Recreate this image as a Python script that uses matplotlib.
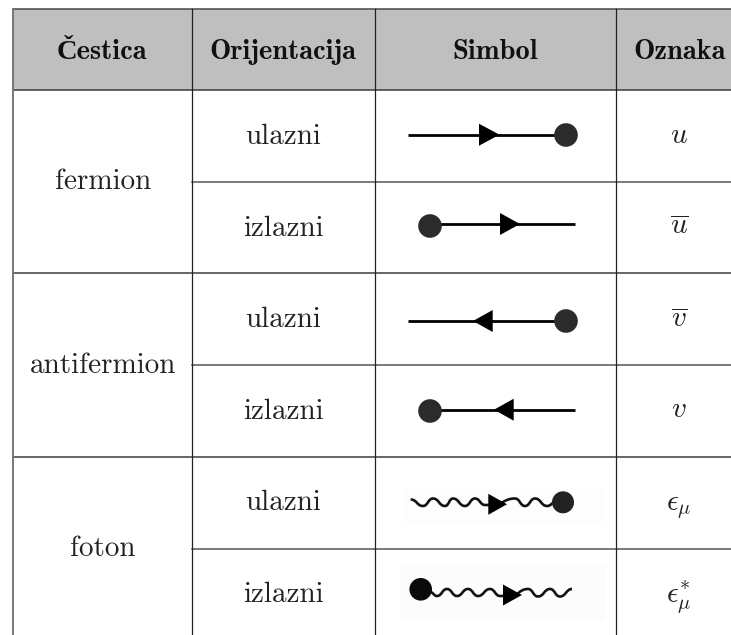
import matplotlib
matplotlib.use("Agg")
import matplotlib.pyplot as plt
from matplotlib.path import Path
from matplotlib.patches import PathPatch, Ellipse, Polygon, Rectangle

plt.rcParams['mathtext.fontset'] = 'cm'

headers = ['Čestica', 'Orijentacija', 'Simbol', 'Oznaka']
particles = ['fermion', 'antifermion', 'foton']
orientations = ['ulazni', 'izlazni'] * 3
labels = [r'$u$', r'$\overline{u}$', r'$\overline{v}$', r'$v$', r'$\epsilon_{\mu}$', r'$\epsilon_{\mu}^{*}$']

# grid in pixels of the picture
col_x = [13, 191.5, 374.5, 615.5]
row_y = [90, 181.5, 273, 365, 457, 549]
top_y = 9

# text baselines in pixels
particle_base = [189, 373, 556]
orient_base = [144, 236, 327, 419, 510, 602]
label_base = [143, 234, 327, 417, 510, 602]

# straight symbols: line y, line start, line end, dot x, dot y, arrow base, arrow tip
straight = [
    (134.7, 408, 566, 566, 135, 479, 499.5),
    (224, 430, 575, 430, 226, 500, 520),
    (321, 408, 566, 566, 321, 492.7, 473),
    (409.7, 430, 575, 430, 411, 513.7, 494),
]

# wave symbols: turning points
wave_in = [(410.7, 499.5), (423, 506), (433, 498.5), (445, 506), (453, 498.5), (465, 506),
           (475, 498.5), (485, 505), (492, 505), (515, 498.5), (525, 506), (535, 498.5),
           (547, 506), (556, 502)]
wave_out = [(430, 592), (437, 596), (447, 589), (457, 596), (468, 589), (478, 596), (490, 589),
            (500, 596), (510, 596), (528, 589), (538, 596.5), (550, 589), (560, 596.5), (572, 589)]


def wave_path(points):
    # smooth curve with flat tangents at every turning point
    verts = [points[0]]
    codes = [Path.MOVETO]
    for (x0, y0), (x1, y1) in zip(points[:-1], points[1:]):
        mid = (x0 + x1) / 2
        verts += [(mid, y0), (mid, y1), (x1, y1)]
        codes += [Path.CURVE4, Path.CURVE4, Path.CURVE4]
    return Path(verts, codes)


def arrow(ax, base, tip, y, half=11):
    ax.add_patch(Polygon([(base, y - half), (base, y + half), (tip, y)], closed=True,
                         fc='black', ec='none', zorder=4))


def dot(ax, x, y, r, color):
    ax.add_patch(Ellipse((x, y), 2 * r, 2 * r, fc=color, ec='none', zorder=5))


fig = plt.figure(figsize=(7.31, 6.35), dpi=100)
ax = fig.add_axes([0, 0, 1, 1])
ax.set_xlim(0, 731)
ax.set_ylim(635, 0)
ax.axis('off')

ax.add_patch(Rectangle((col_x[0], top_y), 731 - col_x[0], row_y[0] - top_y, fc='#bfbfbf', ec='none'))

# faint scan background around the photon symbols
ax.add_patch(Rectangle((403, 487), 202, 38, fc='#fdfdfd', ec='none'))
ax.add_patch(Rectangle((400, 565), 206, 57, fc='#fcfcfc', ec='none'))

# grid
ax.plot([col_x[0], 731], [top_y, top_y], color='#555555', lw=1.2)
for i, y in enumerate(row_y):
    x0 = col_x[0] if i % 2 == 0 else col_x[1]
    ax.plot([x0, 731], [y, y], color='#3c3c3c' if i % 2 == 0 else '#555555', lw=1.1)
ax.plot([col_x[0], col_x[0]], [top_y, 635], color='#777777', lw=1.4)
for x in col_x[1:]:
    ax.plot([x, x], [top_y, 635], color='#222222', lw=0.9)

# header
header_x = [102, 283, 495, 680]
for x, name in zip(header_x, headers):
    ax.text(x, 59, name, ha='center', va='baseline', fontsize=20.5,
            family=['cmb10', 'Liberation Serif'], weight='bold', color='#111111')

for y, name in zip(particle_base, particles):
    ax.text(103, y, name, ha='center', va='baseline', fontsize=21, family='cmr10', color='#222222')

for y, name in zip(orient_base, orientations):
    ax.text(283, y, name, ha='center', va='baseline', fontsize=21, family='cmr10', color='#222222')

for y, name in zip(label_base, labels):
    ax.text(679, y, name, ha='center', va='baseline', fontsize=21, color='#222222')

# symbols
for ly, x0, x1, dx, dy, base, tip in straight:
    ax.plot([x0, x1], [ly, ly], color='black', lw=2.0, solid_capstyle='butt', zorder=3)
    arrow(ax, base, tip, ly)
    dot(ax, dx, dy, 11.8, '#2b2b2b')

ax.add_patch(PathPatch(wave_path(wave_in), fc='none', ec='#111111', lw=1.9, zorder=3))
arrow(ax, 488.3, 507, 504.3, 10.5)
dot(ax, 563, 502.3, 11, '#222222')

ax.add_patch(PathPatch(wave_path(wave_out), fc='none', ec='#111111', lw=1.9, zorder=3))
arrow(ax, 503, 522, 595, 10.5)
dot(ax, 420.7, 589.3, 11.3, '#0a0a0a')

fig.savefig('out.png', dpi=100)
